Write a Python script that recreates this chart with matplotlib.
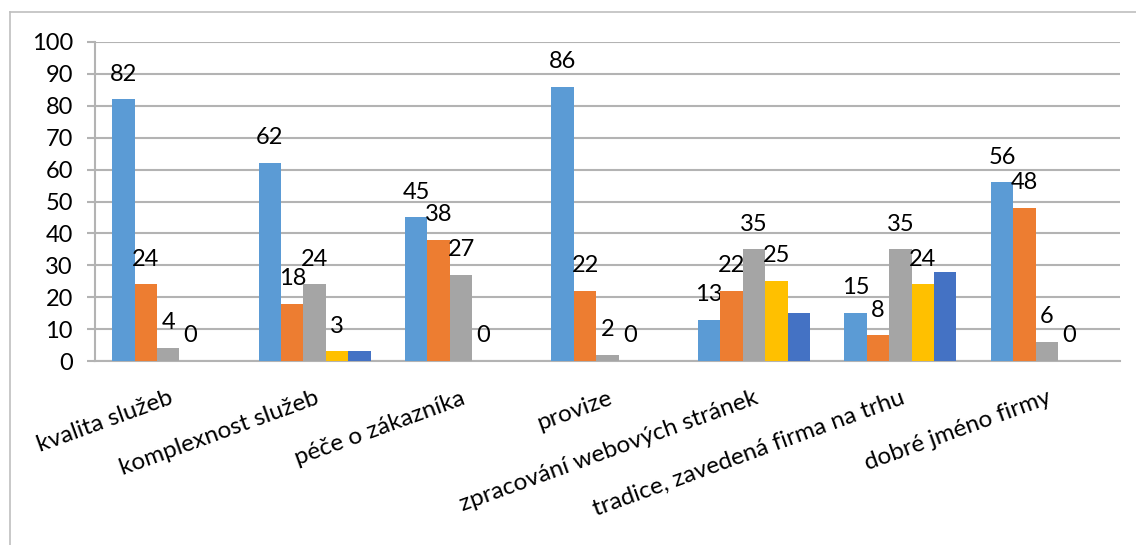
import matplotlib
matplotlib.use('Agg')
import matplotlib.pyplot as plt
import numpy as np
from matplotlib.lines import Line2D

plt.rcParams['font.family'] = ['Lato', 'DejaVu Sans']

categories = ['kvalita služeb', 'komplexnost služeb', 'péče o zákazníka', 'provize',
              'zpracování webových stránek', 'tradice, zavedená firma na trhu',
              'dobré jméno firmy']

# five answer series, the last one is shown without value labels
series_1 = [82, 62, 45, 86, 13, 15, 56]
series_2 = [24, 18, 38, 22, 22, 8, 48]
series_3 = [4, 24, 27, 2, 35, 35, 6]
series_4 = [0, 3, 0, 0, 25, 24, 0]
series_5 = [np.nan, 3, np.nan, np.nan, 15, 28, np.nan]

y_ticks = [0, 10, 20, 30, 40, 50, 60, 70, 80, 90, 100]

colors = ['#5B9BD5', '#ED7D31', '#A5A5A5', '#FFC000', '#4472C4']

fig = plt.figure(figsize=(11.36, 5.45), dpi=100)
ax = fig.add_axes([95 / 1136, 1 - 361 / 545, 1025 / 1136, 319 / 545])

x = np.arange(len(categories))
width = 0.765 / 5
all_series = [series_1, series_2, series_3, series_4, series_5]

for i, vals in enumerate(all_series):
    bars = ax.bar(x + (i - 2) * width, vals, width, color=colors[i], zorder=3)
    if i < 4:
        for rect, v in zip(bars, vals):
            ax.annotate(f'{v:g}', (rect.get_x() + rect.get_width() / 2, v),
                        xytext=(0, 13.5), textcoords='offset points',
                        ha='center', va='baseline', fontsize=17, color='black')

ax.set_xlim(-0.5, len(categories) - 0.5)
ax.set_ylim(0, 100)
ax.set_yticks(y_ticks)
ax.set_xticks(x)
ax.set_xticklabels(categories, rotation=20, ha='right', rotation_mode='anchor')

# grid and axis lines
grid_color = '#B3B3B3'
ax.yaxis.grid(True, color=grid_color, linewidth=1.5, zorder=0)
ax.set_axisbelow(True)
for side in ['top', 'right']:
    ax.spines[side].set_visible(False)
ax.spines['left'].set_color(grid_color)
ax.spines['left'].set_linewidth(1.5)
ax.spines['bottom'].set_color(grid_color)
ax.spines['bottom'].set_linewidth(1.5)

ax.tick_params(axis='y', length=6, width=1.5, color=grid_color, pad=10, labelsize=17)
ax.tick_params(axis='x', length=0, pad=19, labelsize=17.5)

# outer chart frame
fig.add_artist(Line2D([10 / 1136, 10 / 1136], [0, 1 - 12 / 545],
                      transform=fig.transFigure, color='#BFBFBF', linewidth=1.2))
fig.add_artist(Line2D([10 / 1136, 1], [1 - 12 / 545, 1 - 12 / 545],
                      transform=fig.transFigure, color='#BFBFBF', linewidth=1.2))

plt.savefig('out.png', dpi=100)
